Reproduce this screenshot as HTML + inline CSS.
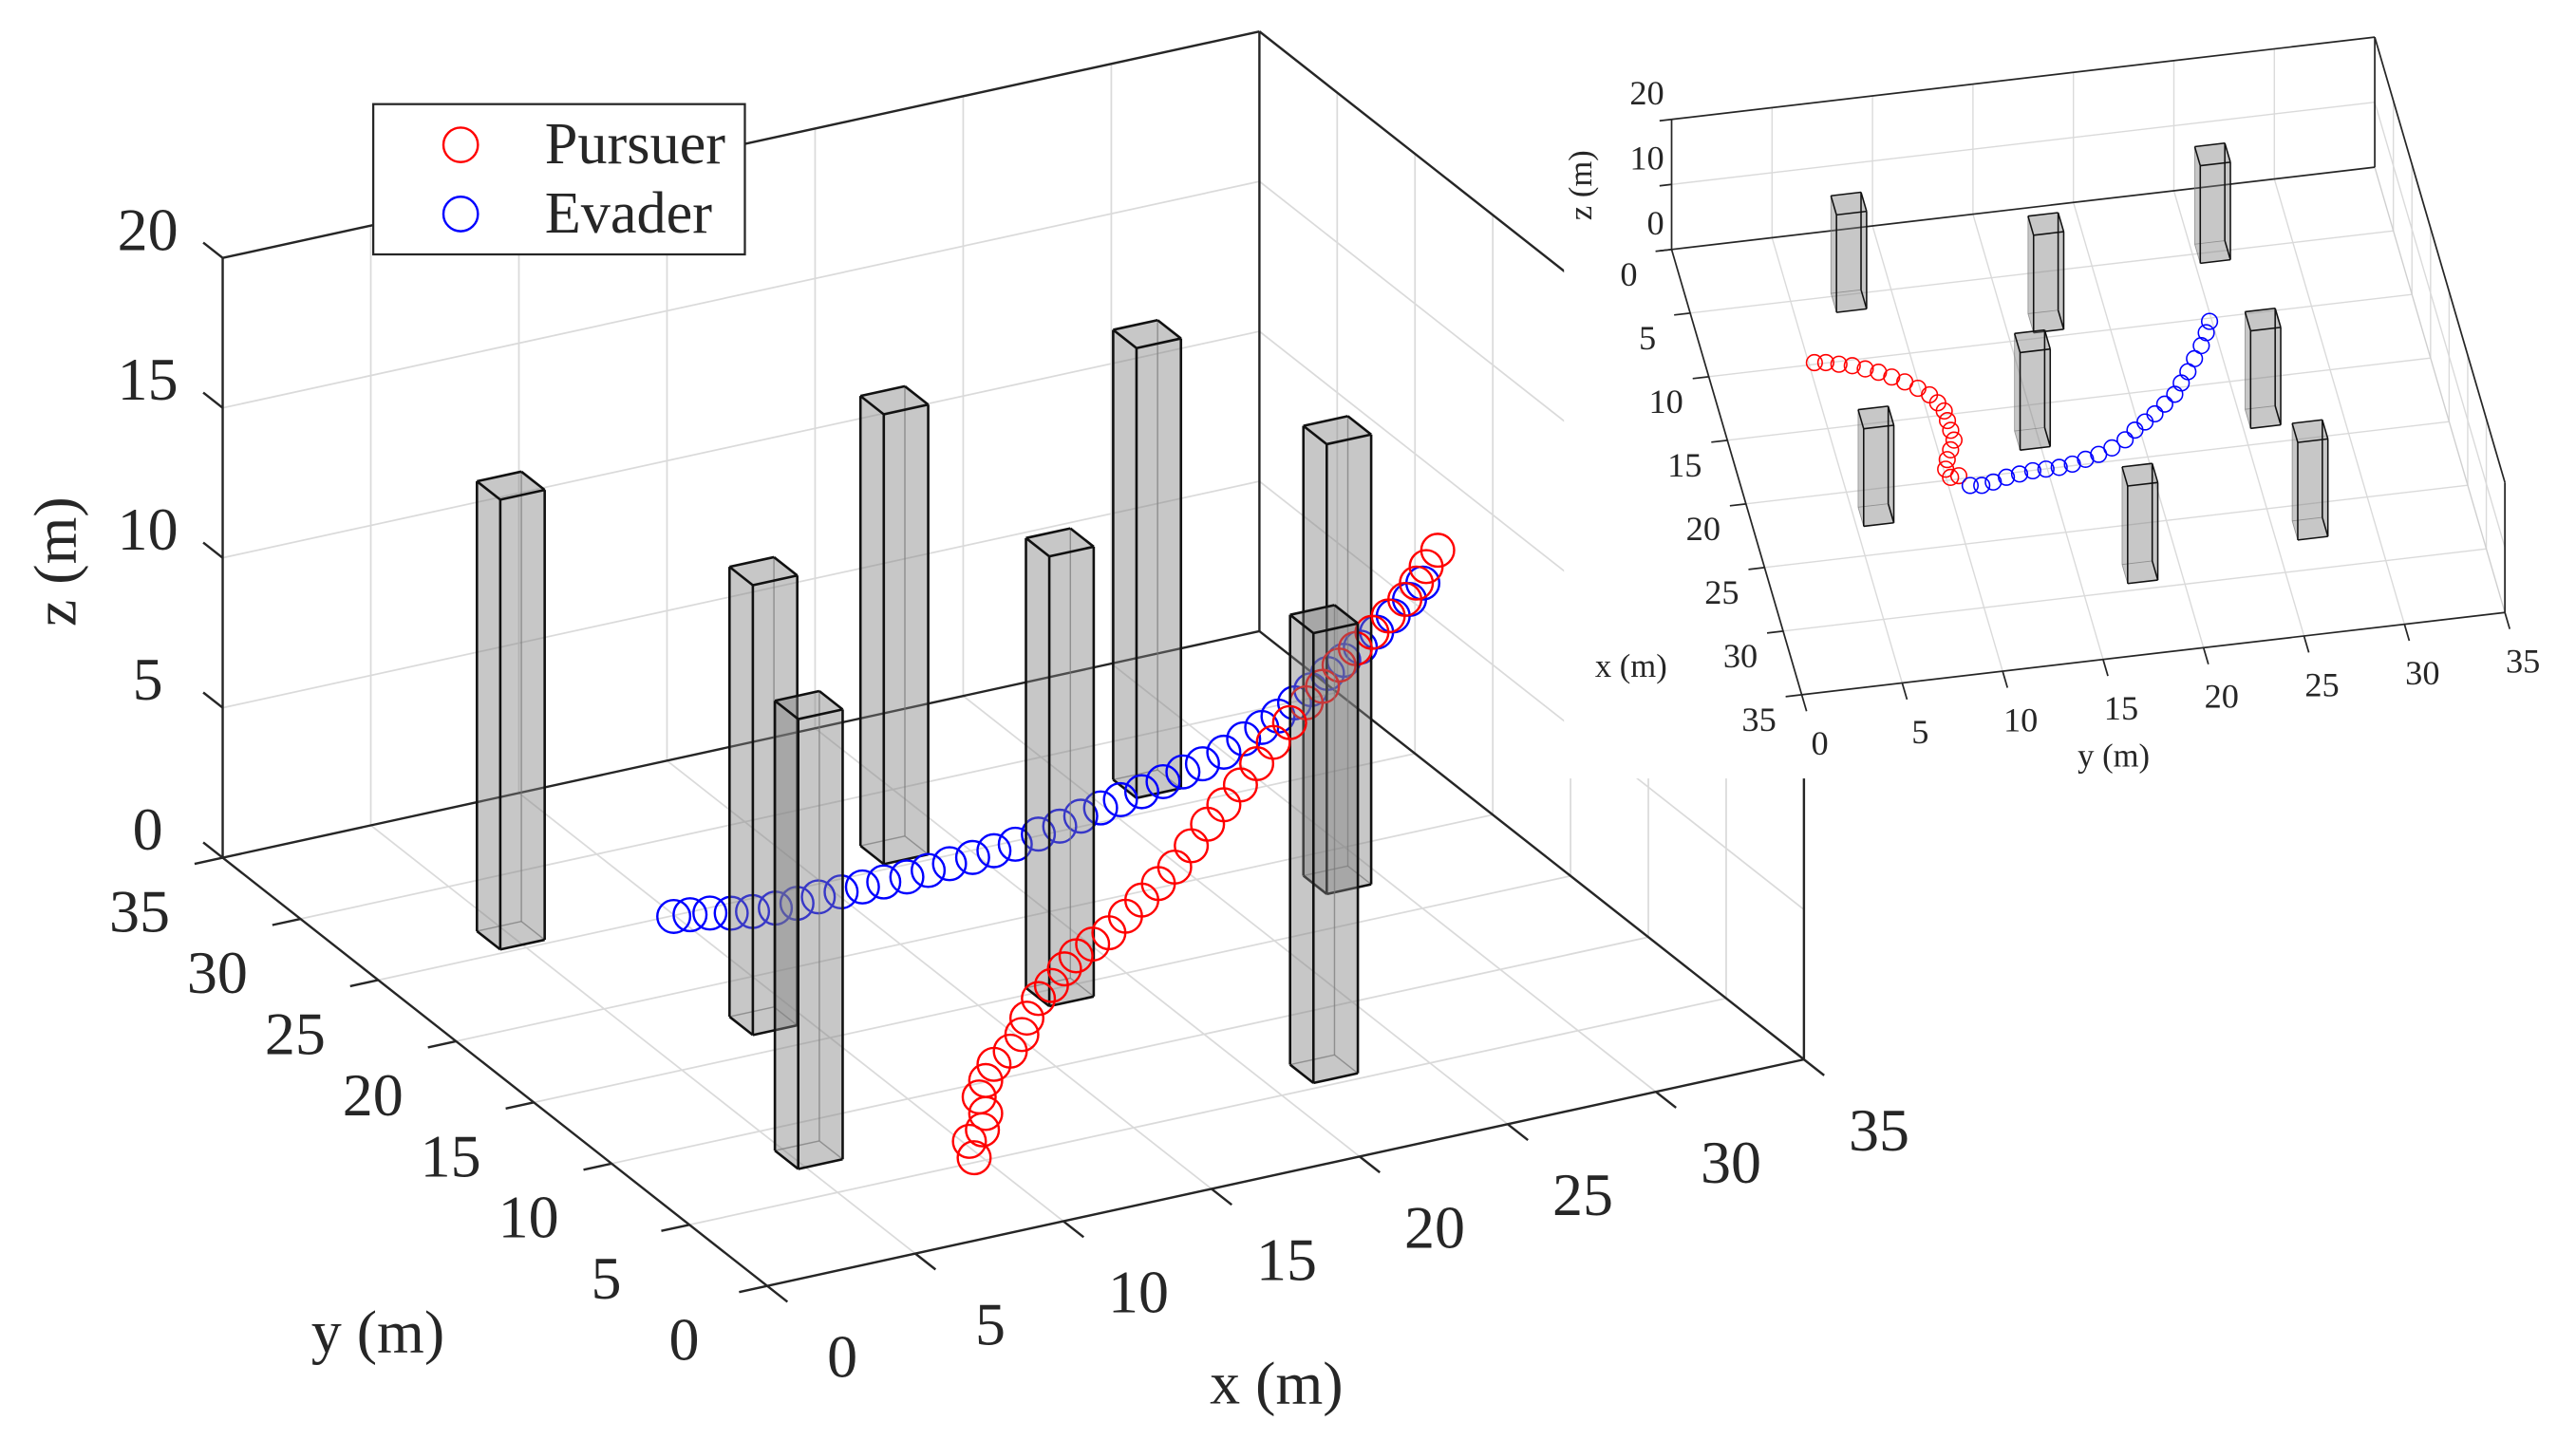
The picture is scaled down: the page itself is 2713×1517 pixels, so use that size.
<!DOCTYPE html>
<html>
<head>
<meta charset="utf-8">
<style>
  html,body{margin:0;padding:0;background:#fff;}
  svg{display:block;}
  svg text{font-family:"Liberation Serif","DejaVu Serif",serif;fill:#262626;}
</style>
</head>
<body>
<svg id="fig" xmlns="http://www.w3.org/2000/svg" width="2713" height="1517" viewBox="0 0 1568 876.8" preserveAspectRatio="none" font-family="Liberation Serif, DejaVu Serif, serif">
  <rect x="0" y="0" width="1568" height="876.8" fill="#fff"/>
  <g id="main"></g>
  <g id="inset"></g>
</svg>
<script>
// ---------- DATA ----------
const obsX = [5.5, 8.8, 5.0, 17.6, 18.0, 22.0, 28.7, 26.9];
const obsY = [7.8, 17.0, 26.0, 14.7, 26.1, 6.1, 18.0, 26.8];
const obsH = [15, 15, 15, 15, 15, 15, 15, 15];
const obsW = [1.5, 1.5, 1.5, 1.5, 1.5, 1.5, 1.5, 1.5];

const pursuerX = [10.40,10.24,10.68,10.79,10.57,10.79,11.07,11.62,12.01,12.18,12.57,13.01,13.45,13.84,14.40,14.95,15.51,16.06,16.62,17.17,17.73,18.28,18.83,19.39,19.94,20.50,21.05,21.61,22.16,22.72,23.27,23.83,24.38,24.94,25.33,25.66,26.05];
const pursuerY = [6.5,6.5,6.5,6.5,6.5,6.5,6.5,6.5,6.5,6.5,6.5,6.5,6.5,6.5,6.5,6.5,6.5,6.5,6.5,6.5,6.5,6.5,6.5,6.5,6.5,6.5,6.5,6.5,6.5,6.5,6.5,6.5,6.5,6.5,6.5,6.5,6.5];
const pursuerZ = [-0.62,-0.04,0.25,0.77,1.37,1.87,2.35,2.67,3.14,3.65,4.22,4.56,5.02,5.37,5.64,5.90,6.33,6.75,7.18,7.61,8.20,8.80,9.33,9.87,10.46,11.05,11.59,12.13,12.56,13.15,13.58,14.00,14.43,14.86,15.32,15.80,16.26];

const evaderX = [9.45,10.00,10.67,11.39,12.11,12.88,13.61,14.33,15.10,15.82,16.54,17.32,18.04,18.76,19.54,20.26,20.98,21.76,22.48,23.19,23.86,24.53,25.25,25.97,26.64,27.30,28.02,28.69,29.30,29.85,30.41,30.96,31.52,32.07,32.63,33.18,33.74,34.29,34.74];
const evaderY = [24,24,24,24,24,24,24,24,24,24,24,24,24,24,24,24,24,24,24,24,24,24,24,24,24,24,24,24,24,24,24,24,24,24,24,24,24,24,24];
const evaderZ = [0.49,0.43,0.34,0.18,0.08,0.03,0.03,0.09,0.09,0.10,0.11,0.11,0.17,0.24,0.28,0.35,0.41,0.58,0.69,0.87,1.00,1.13,1.24,1.42,1.60,1.73,1.96,2.26,2.51,2.77,3.09,3.41,3.83,4.15,4.47,4.85,5.27,5.70,6.15];

const insetPursuerX = [9.87,9.97,10.21,10.44,10.80,11.17,11.65,12.14,12.74,13.34,14.02,14.70,15.46,16.23,17.00,17.71,18.42,19.14,19.80,19.75];
const insetPursuerY = [5.28,5.83,6.44,7.06,7.64,8.23,8.80,9.36,9.90,10.37,10.65,10.85,10.87,10.89,10.91,10.61,10.31,10.10,10.22,10.64];
const insetEvaderX = [20.59,20.69,20.54,20.29,20.16,20.03,20.02,20.01,19.88,19.63,19.37,19.00,18.50,17.85,17.32,16.79,16.14,15.48,14.68,13.88,12.95,12.02,11.08,10.25];
const insetEvaderY = [11.05,11.61,12.21,12.91,13.59,14.27,14.93,15.59,16.27,16.97,17.67,18.40,19.15,19.76,20.36,20.95,21.56,22.18,22.65,23.13,23.63,24.14,24.56,24.88];

const tickVals = [0,5,10,15,20,25,30,35];
const zTickVals = [0,5,10,15,20];
const insetZTickVals = [0,10,20];

// ---------- PROJECTIONS ----------
function P(x,y,z){ return [467 + 18.03*x - 9.47*y, 783 - 3.94*x - 7.45*y - 18.26*z]; }
function Q(x,y,z){ return [1017.5 + 2.263*x + 12.229*y, 151.9 + 7.746*x - 1.431*y - 3.96*z]; }

const NS = "http://www.w3.org/2000/svg";
const mainG = document.getElementById('main');
const insetG = document.getElementById('inset');
const FONT = '"Liberation Serif", "DejaVu Serif", serif';

function mk(tag, parent){ const e = document.createElementNS(NS, tag); parent.appendChild(e); return e; }
function seg(parent, a, b, stroke, w, name){
  const l = mk('line', parent);
  l.setAttribute('x1', a[0]); l.setAttribute('y1', a[1]);
  l.setAttribute('x2', b[0]); l.setAttribute('y2', b[1]);
  l.setAttribute('stroke', stroke); l.setAttribute('stroke-width', w);
  
  
  return l;
}
function txt(parent, x, y, s, size, anchor, name){
  const t = mk('text', parent);
  t.setAttribute('x', x); t.setAttribute('y', y);
  t.setAttribute('font-size', size);
  t.setAttribute('font-family', FONT);
  t.style.fontFamily = FONT;
  t.setAttribute('fill', '#262626');
  t.setAttribute('text-anchor', anchor);
  t.setAttribute('dominant-baseline', 'central');
  t.textContent = s;
  
  
  return t;
}
function poly(parent, pts, name){
  const p = mk('polygon', parent);
  p.setAttribute('points', pts.map(q => q[0].toFixed(2)+','+q[1].toFixed(2)).join(' '));
  p.setAttribute('fill', '#808080');
  p.setAttribute('fill-opacity', '0.25');
  p.setAttribute('stroke', 'none');
  
  
  return p;
}
function drawBox(parent, proj, cx, cy, w, h, idx, isInset){
  const g = mk('g', parent);
  
  
  const x0 = cx - w/2, x1 = cx + w/2, y0 = cy - w/2, y1 = cy + w/2;
  const b00 = proj(x0,y0,0), b10 = proj(x1,y0,0), b11 = proj(x1,y1,0), b01 = proj(x0,y1,0);
  const t00 = proj(x0,y0,h), t10 = proj(x1,y0,h), t11 = proj(x1,y1,h), t01 = proj(x0,y1,h);
  poly(g, [b00,b10,b11,b01], 'obstacle-bottom-face');
  poly(g, [b10,b11,t11,t10], 'obstacle-side-face');
  poly(g, [b01,b11,t11,t01], 'obstacle-side-face');
  poly(g, [b00,b01,t01,t00], 'obstacle-side-face');
  poly(g, [b00,b10,t10,t00], 'obstacle-side-face');
  poly(g, [t00,t10,t11,t01], 'obstacle-top-face');
  const sw = isInset ? 0.9 : 1.5;
  const hidden = isInset ? [[b00,b01],[b00,t00],[b00,b10]] : [[b11,t11],[b10,b11],[b01,b11]];
  const vis = isInset
    ? [[b10,t10],[b11,t11],[b01,t01],[t00,t10],[t10,t11],[t11,t01],[t01,t00],[b10,b11],[b01,b11]]
    : [[b00,t00],[b10,t10],[b01,t01],[t00,t10],[t10,t11],[t11,t01],[t01,t00],[b00,b10],[b00,b01]];
  hidden.forEach(e => { const l = seg(g, e[0], e[1], '#777', sw*0.55, 'obstacle-hidden-edge'); l.setAttribute('stroke-opacity','0.7'); });
  vis.forEach(e => seg(g, e[0], e[1], '#111', sw, 'obstacle-edge'));
}
function marker(parent, c, r, color, sw, name){
  const m = mk('circle', parent);
  m.setAttribute('cx', c[0].toFixed(2)); m.setAttribute('cy', c[1].toFixed(2));
  m.setAttribute('r', r); m.setAttribute('fill', 'none');
  m.setAttribute('stroke', color); m.setAttribute('stroke-width', sw);
  
  
  return m;
}

// ---------- MAIN AXES ----------
const GRID = '#dadada';
const grid = mk('g', mainG);


for (let v = 5; v <= 30; v += 5){
  seg(grid, P(v,0,0), P(v,35,0), GRID, 1, 'floor-grid-x');
  seg(grid, P(0,v,0), P(35,v,0), GRID, 1, 'floor-grid-y');
  seg(grid, P(v,35,0), P(v,35,20), GRID, 1, 'back-wall-grid-x');
  seg(grid, P(35,v,0), P(35,v,20), GRID, 1, 'side-wall-grid-y');
}
for (let v = 5; v <= 15; v += 5){
  seg(grid, P(0,35,v), P(35,35,v), GRID, 1, 'back-wall-grid-z');
  seg(grid, P(35,0,v), P(35,35,v), GRID, 1, 'side-wall-grid-z');
}
const box = mk('g', mainG);


const BK = '#262626';
seg(box, P(0,35,0), P(35,35,0), BK, 1.4, 'back-floor-edge');
seg(box, P(35,0,0), P(35,35,0), BK, 1.4, 'side-floor-edge');
seg(box, P(0,35,20), P(35,35,20), BK, 1.4, 'top-back-edge');
seg(box, P(35,0,20), P(35,35,20), BK, 1.4, 'top-side-edge');
seg(box, P(35,35,0), P(35,35,20), BK, 1.4, 'back-corner-edge');
seg(box, P(35,0,0), P(35,0,20), BK, 1.4, 'front-right-edge');
seg(box, P(0,0,0), P(35,0,0), BK, 1.4, 'x-axis-line');
seg(box, P(0,0,0), P(0,35,0), BK, 1.4, 'y-axis-line');
seg(box, P(0,35,0), P(0,35,20), BK, 1.4, 'z-axis-line');

tickVals.forEach(v => {
  seg(box, P(v,0,0), P(v,-1.3,0), BK, 1.4, 'x-tick');
  seg(box, P(0,v,0), P(-0.95,v,0), BK, 1.4, 'y-tick');
  const a = P(v,0,0); txt(mainG, a[0]+45.7, a[1]+43, String(v), 37, 'middle', 'x-tick-label');
  const b = P(0,v,0); txt(mainG, b[0]-50.6, b[1]+32.6, String(v), 37, 'middle', 'y-tick-label');
});
zTickVals.forEach(v => {
  seg(box, P(0,35,v), P(0,36.25,v), BK, 1.4, 'z-tick');
  const c = P(0,35,v); txt(mainG, c[0]-45.6, c[1]-17.3, String(v), 37, 'middle', 'z-tick-label');
});
txt(mainG, 777, 842, 'x (m)', 37, 'middle', 'x-axis-title');
txt(mainG, 230, 811, 'y (m)', 37, 'middle', 'y-axis-title');
const zt = txt(mainG, 33.5, 342, 'z (m)', 37, 'middle', 'z-axis-title');
zt.setAttribute('transform', 'rotate(-90 33.5 342)');

const items = [];
obsX.forEach((x,i) => items.push({k: 3.94*x + 7.45*obsY[i], type:'box', i}));
pursuerX.forEach((x,i) => items.push({k: 3.94*x + 7.45*pursuerY[i], type:'p', i}));
evaderX.forEach((x,i) => items.push({k: 3.94*x + 7.45*evaderY[i], type:'e', i}));
items.sort((a,b) => b.k - a.k);
const scene = mk('g', mainG);


items.forEach(it => {
  if (it.type === 'box') drawBox(scene, P, obsX[it.i], obsY[it.i], obsW[it.i], obsH[it.i], it.i, false);
  else if (it.type === 'p') marker(scene, P(pursuerX[it.i], pursuerY[it.i], pursuerZ[it.i]), 10, '#ff0000', 1.4, 'pursuer-point');
  else marker(scene, P(evaderX[it.i], evaderY[it.i], evaderZ[it.i]), 10, '#0000ff', 1.4, 'evader-point');
});

// legend
const leg = mk('g', mainG);


const lr = mk('rect', leg);
lr.setAttribute('x', 227.2); lr.setAttribute('y', 63.4); lr.setAttribute('width', 226.2); lr.setAttribute('height', 91.5);
lr.setAttribute('fill', '#fff'); lr.setAttribute('stroke', '#262626'); lr.setAttribute('stroke-width', 1.3);


marker(leg, [280.4, 88.2], 10.5, '#ff0000', 1.4, 'legend-pursuer-marker');
marker(leg, [280.4, 130.3], 10.5, '#0000ff', 1.4, 'legend-evader-marker');
txt(leg, 331.6, 88, 'Pursuer', 36, 'start', 'legend-entry-pursuer');
txt(leg, 331.6, 130, 'Evader', 36, 'start', 'legend-entry-evader');

// ---------- INSET ----------
const wr = mk('rect', insetG);
wr.setAttribute('x', 952); wr.setAttribute('y', 0); wr.setAttribute('width', 616); wr.setAttribute('height', 474);
wr.setAttribute('fill', '#fff');


const ig = mk('g', insetG);


for (let v = 5; v <= 30; v += 5){
  seg(ig, Q(v,0,0), Q(v,35,0), GRID, 0.8, 'inset-floor-grid-x');
  seg(ig, Q(0,v,0), Q(35,v,0), GRID, 0.8, 'inset-floor-grid-y');
  seg(ig, Q(0,v,0), Q(0,v,20), GRID, 0.8, 'inset-wall-grid-y');
  seg(ig, Q(v,35,0), Q(v,35,20), GRID, 0.8, 'inset-wall-grid-x');
}
seg(ig, Q(0,0,10), Q(0,35,10), GRID, 0.8, 'inset-wall-grid-z');
seg(ig, Q(0,35,10), Q(35,35,10), GRID, 0.8, 'inset-wall-grid-z');
seg(ig, Q(0,35,0), Q(35,35,0), '#cfcfcf', 0.8, 'inset-floor-back-edge');
const ib = mk('g', insetG);


seg(ib, Q(0,0,0), Q(0,0,20), BK, 1, 'inset-z-axis-line');
seg(ib, Q(0,0,20), Q(0,35,20), BK, 1, 'inset-top-edge');
seg(ib, Q(0,0,0), Q(0,35,0), BK, 1, 'inset-back-floor-edge');
seg(ib, Q(0,35,0), Q(0,35,20), BK, 1, 'inset-corner-edge');
seg(ib, Q(0,35,20), Q(35,35,20), BK, 1, 'inset-top-side-edge');
seg(ib, Q(35,35,0), Q(35,35,20), BK, 1, 'inset-far-corner-edge');
seg(ib, Q(0,0,0), Q(35,0,0), BK, 1, 'inset-x-axis-line');
seg(ib, Q(35,0,0), Q(35,35,0), BK, 1, 'inset-y-axis-line');
tickVals.forEach(v => {
  seg(ib, Q(35,v,0), Q(36.3,v,0), BK, 1, 'inset-y-tick');
  seg(ib, Q(v,0,0), Q(v,-0.8,0), BK, 1, 'inset-x-tick');
  const a = Q(35,v,0); txt(insetG, a[0]+11, a[1]+29.7, String(v), 21, 'middle', 'inset-y-tick-label');
  const b = Q(v,0,0); txt(insetG, b[0]-26, b[1]+15, String(v), 21, 'middle', 'inset-x-tick-label');
});
insetZTickVals.forEach(v => {
  seg(ib, Q(0,0,v), Q(0,-0.6,v), BK, 1, 'inset-z-tick');
  const c = Q(0,0,v); txt(insetG, 1013, c[1]-16, String(v), 21, 'end', 'inset-z-tick-label');
});
txt(insetG, 1286.6, 460.5, 'y (m)', 20, 'middle', 'inset-y-axis-title');
txt(insetG, 992.8, 405.7, 'x (m)', 20, 'middle', 'inset-x-axis-title');
const izt = txt(insetG, 962.3, 112.8, 'z (m)', 20, 'middle', 'inset-z-axis-title');
izt.setAttribute('transform', 'rotate(-90 962.3 112.8)');

const is = mk('g', insetG);


obsX.forEach((x,i) => drawBox(is, Q, x, obsY[i], obsW[i], obsH[i], i, true));
insetPursuerX.forEach((x,i) => marker(is, Q(x, insetPursuerY[i], 0), 4.8, '#ff0000', 0.9, 'inset-pursuer-point'));
insetEvaderX.forEach((x,i) => marker(is, Q(x, insetEvaderY[i], 0), 4.8, '#0000ff', 0.9, 'inset-evader-point'));
</script>
</body>
</html>
